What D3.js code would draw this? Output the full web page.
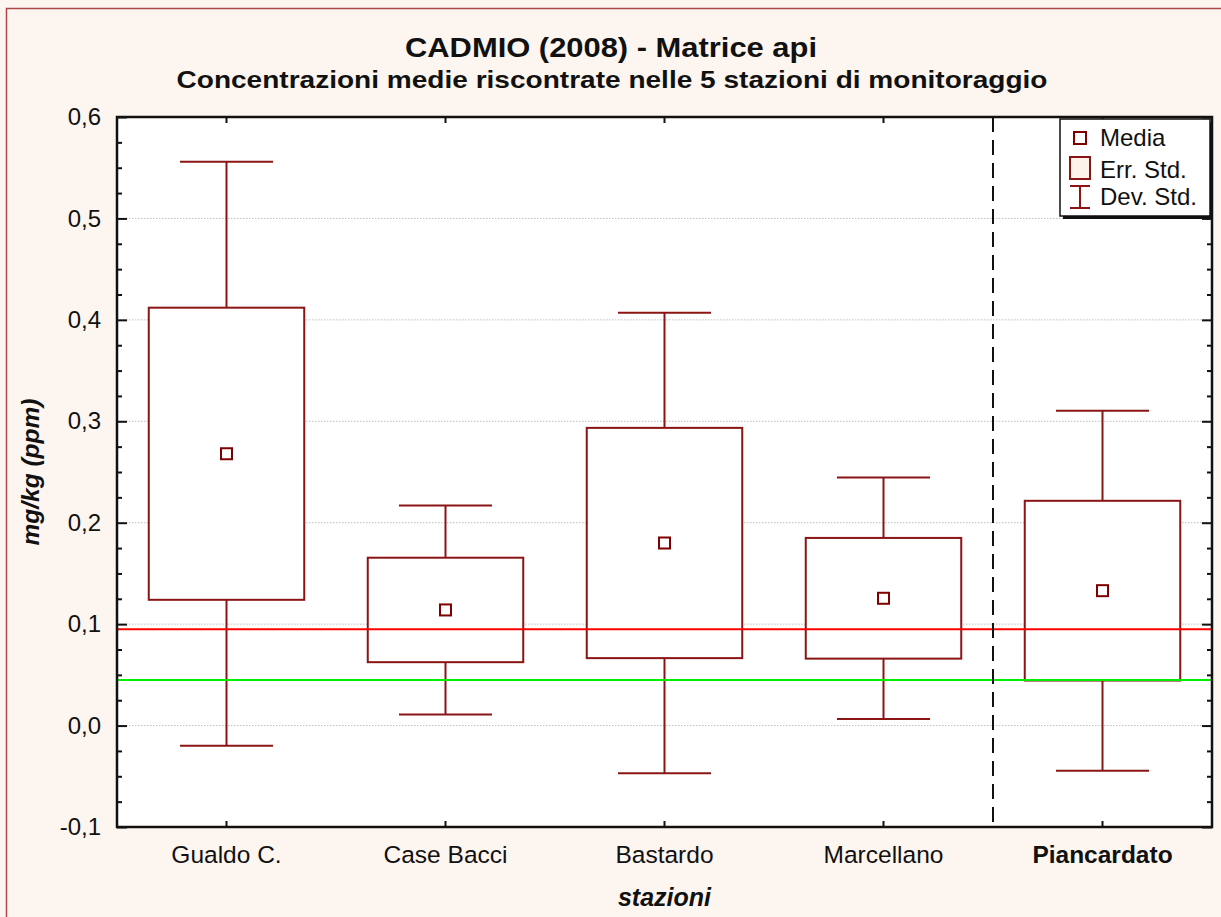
<!DOCTYPE html>
<html>
<head>
<meta charset="utf-8">
<script src="https://cdn.jsdelivr.net/npm/d3@7"></script>
<style>
  html, body { margin: 0; padding: 0; background: #fdf6f0; }
  svg { display: block; }
  text { font-family: "Liberation Sans", Arial, sans-serif; }
</style>
</head>
<body>
<svg id="chart" width="1221" height="917"></svg>
<script>
// ---- data ----
const categories = ["Gualdo C.", "Case Bacci", "Bastardo", "Marcellano", "Piancardato"];
const means      = [0.268, 0.114, 0.180, 0.1255, 0.133];
const stdErr     = [0.144, 0.0515, 0.1135, 0.0595, 0.0886];
const stdDev     = [0.288, 0.103, 0.227, 0.119, 0.1775];
const yTicks     = [-0.1, 0.0, 0.1, 0.2, 0.3, 0.4, 0.5, 0.6];
const refRed     = 0.095;
const refGreen   = 0.045;
const legendItems = ["Media", "Err. Std.", "Dev. Std."];
const title      = "CADMIO (2008) - Matrice api";
const subtitle   = "Concentrazioni medie riscontrate nelle 5 stazioni di monitoraggio";
const xTitle     = "stazioni";
const yTitle     = "mg/kg (ppm)";

// ---- layout ----
const W = 1221, H = 917;
const L = 117, R = 1212, T = 117, B = 827;
const dark = "#8b1414";

const svg = d3.select("#chart");

// outer frame
svg.append("rect").attr("x", 6.5).attr("y", 8.5).attr("width", W + 20).attr("height", H + 20)
  .attr("fill", "#fdf6f0").attr("stroke", "#a84848").attr("stroke-width", 1.5);

const x = d3.scaleBand().domain(categories).range([L, R]).padding(0);
const y = d3.scaleLinear().domain([-0.1, 0.6]).range([B, T]);

// plot background
svg.append("rect").attr("x", L).attr("y", T).attr("width", R - L).attr("height", B - T).attr("fill", "#fff");

// grid lines
svg.append("g").selectAll("line").data(yTicks.filter(v => v > -0.1 && v < 0.6)).join("line")
  .attr("x1", L).attr("x2", R).attr("y1", d => y(d)).attr("y2", d => y(d))
  .attr("stroke", "#bdbdbd").attr("stroke-width", 1).attr("stroke-dasharray", "1.5,1.5");

const data = categories.map((c, i) => ({ c, m: means[i], se: stdErr[i], sd: stdDev[i] }));
const bw = x.bandwidth();
const boxW = bw * 0.71;
const capW = bw * 0.425;

const g = svg.append("g");
// whiskers
data.forEach(d => {
  const cx = x(d.c) + bw / 2;
  g.append("line").attr("x1", cx).attr("x2", cx).attr("y1", y(d.m + d.se)).attr("y2", y(d.m + d.sd))
    .attr("stroke", dark).attr("stroke-width", 2);
  g.append("line").attr("x1", cx).attr("x2", cx).attr("y1", y(d.m - d.se)).attr("y2", y(d.m - d.sd))
    .attr("stroke", dark).attr("stroke-width", 2);
  [d.m + d.sd, d.m - d.sd].forEach(v => {
    g.append("line").attr("x1", cx - capW / 2).attr("x2", cx + capW / 2).attr("y1", y(v)).attr("y2", y(v))
      .attr("stroke", dark).attr("stroke-width", 2);
  });
});
// boxes
g.selectAll("rect.box").data(data).join("rect").attr("class", "box")
  .attr("x", d => x(d.c) + bw / 2 - boxW / 2).attr("width", boxW)
  .attr("y", d => y(d.m + d.se)).attr("height", d => y(d.m - d.se) - y(d.m + d.se))
  .attr("fill", "#fff").attr("stroke", dark).attr("stroke-width", 2);

// reference lines
svg.append("line").attr("x1", L).attr("x2", R).attr("y1", y(refRed)).attr("y2", y(refRed))
  .attr("stroke", "#ff0000").attr("stroke-width", 2);
svg.append("line").attr("x1", L).attr("x2", R).attr("y1", y(refGreen)).attr("y2", y(refGreen))
  .attr("stroke", "#00ee00").attr("stroke-width", 2);

// dashed separator between 4th and 5th category
const sepX = x(categories[4]);
svg.append("line").attr("x1", sepX).attr("x2", sepX).attr("y1", T).attr("y2", B)
  .attr("stroke", "#111").attr("stroke-width", 2).attr("stroke-dasharray", "15,8");

// means
g.selectAll("rect.mean").data(data).join("rect").attr("class", "mean")
  .attr("x", d => x(d.c) + bw / 2 - 5.5).attr("y", d => y(d.m) - 5.5)
  .attr("width", 11).attr("height", 11)
  .attr("fill", "#fff").attr("stroke", "#800000").attr("stroke-width", 2);

// axes
const fmt = v => d3.format(".1f")(v).replace(".", ",").replace("\u2212", "-");
const minor = d3.range(-4, 25).map(k => k * 0.025).filter(v => Math.abs(Math.round(v * 10) - v * 10) > 1e-6);

const yAxis = svg.append("g").attr("transform", `translate(${L},0)`)
  .call(d3.axisLeft(y).tickValues(yTicks).tickSize(-10).tickPadding(16).tickFormat(fmt));
yAxis.selectAll("text").attr("font-size", 24).attr("fill", "#111").attr("font-family", "Liberation Sans, Arial, sans-serif");
svg.append("g").attr("transform", `translate(${L},0)`)
  .call(d3.axisLeft(y).tickValues(minor).tickSize(-5).tickFormat(""));

svg.append("g").attr("transform", `translate(${R},0)`)
  .call(d3.axisRight(y).tickValues(yTicks).tickSize(-10).tickFormat(""));
svg.append("g").attr("transform", `translate(${R},0)`)
  .call(d3.axisRight(y).tickValues(minor).tickSize(-5).tickFormat(""));

const xAxis = svg.append("g").attr("transform", `translate(0,${B})`)
  .call(d3.axisBottom(x).tickSize(-6).tickPadding(19));
xAxis.selectAll("text").attr("font-size", 24.5).attr("fill", "#111").attr("font-family", "Liberation Sans, Arial, sans-serif")
  .attr("font-weight", d => d === categories[4] ? "bold" : "normal");
svg.append("g").attr("transform", `translate(0,${T})`)
  .call(d3.axisTop(x).tickSize(-6).tickFormat(""));

svg.selectAll(".domain").attr("stroke", "none");
svg.selectAll(".tick line").attr("stroke", "#111").attr("stroke-width", 2);

// plot frame
svg.append("rect").attr("x", L).attr("y", T).attr("width", R - L).attr("height", B - T)
  .attr("fill", "none").attr("stroke", "#111").attr("stroke-width", 2.5);

// titles
svg.append("text").attr("x", 611).attr("y", 57).attr("text-anchor", "middle")
  .attr("font-size", 27).attr("font-weight", "bold").attr("fill", "#111")
  .attr("textLength", 412).attr("lengthAdjust", "spacingAndGlyphs").text(title);
svg.append("text").attr("x", 612).attr("y", 88).attr("text-anchor", "middle")
  .attr("font-size", 24).attr("font-weight", "bold").attr("fill", "#111")
  .attr("textLength", 871).attr("lengthAdjust", "spacingAndGlyphs").text(subtitle);

svg.append("text").attr("x", (L + R) / 2).attr("y", 906).attr("text-anchor", "middle")
  .attr("font-size", 25).attr("font-weight", "bold").attr("font-style", "italic").attr("fill", "#111").text(xTitle);
svg.append("text").attr("transform", `translate(39,${(T + B) / 2}) rotate(-90)`).attr("text-anchor", "middle")
  .attr("font-size", 24.5).attr("font-weight", "bold").attr("font-style", "italic").attr("fill", "#111").text(yTitle);

// legend
const lg = svg.append("g");
const lx = 1060, ly = 119, lw = 150, lh = 97;
lg.append("rect").attr("x", lx + 3).attr("y", ly + 3).attr("width", lw).attr("height", lh).attr("fill", "#111");
lg.append("rect").attr("x", lx).attr("y", ly).attr("width", lw).attr("height", lh)
  .attr("fill", "#fff").attr("stroke", "#111").attr("stroke-width", 1.5);
const rowY = [138, 168, 197];
const rowBase = [146, 177.5, 205];
legendItems.forEach((t, i) => {
  lg.append("text").attr("x", 1100).attr("y", rowBase[i]).attr("font-size", 24).attr("fill", "#111").text(t);
});
lg.append("rect").attr("x", 1074).attr("y", rowY[0] - 6).attr("width", 12).attr("height", 12)
  .attr("fill", "#fff").attr("stroke", "#800000").attr("stroke-width", 2);
lg.append("rect").attr("x", 1070).attr("y", rowY[1] - 11).attr("width", 20).attr("height", 22)
  .attr("fill", "#fdf3ea").attr("stroke", dark).attr("stroke-width", 2);
lg.append("line").attr("x1", 1080).attr("x2", 1080).attr("y1", rowY[2] - 11).attr("y2", rowY[2] + 11)
  .attr("stroke", dark).attr("stroke-width", 2);
[rowY[2] - 11, rowY[2] + 11].forEach(v => lg.append("line").attr("x1", 1070).attr("x2", 1090)
  .attr("y1", v).attr("y2", v).attr("stroke", dark).attr("stroke-width", 2));
</script>
</body>
</html>
